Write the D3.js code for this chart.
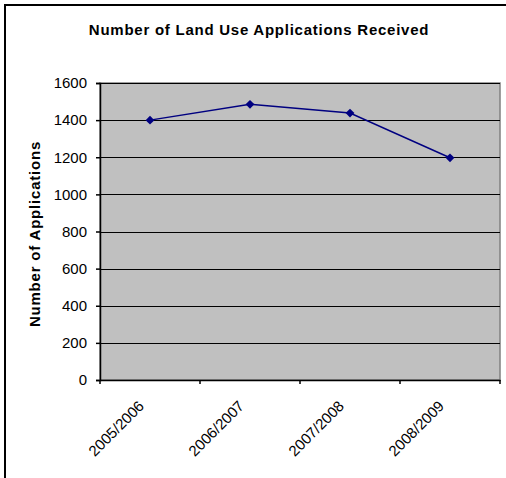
<!DOCTYPE html>
<html><head><meta charset="utf-8">
<script src="https://cdn.jsdelivr.net/npm/d3@7"></script>
<style>body{margin:0;background:#fff}svg{display:block}text{font-family:"Liberation Sans",Arial,sans-serif}</style>
</head><body><svg id="c" width="506" height="478"></svg>
<script>
const categories = ["2005/2006","2006/2007","2007/2008","2008/2009"];
const values = [1400, 1485, 1438, 1197];
const yTicks = [0,200,400,600,800,1000,1200,1400,1600];

const svg = d3.select("#c");
svg.append("rect").attr("x",5).attr("y",5).attr("width",510).attr("height",490)
  .attr("fill","#fff").attr("stroke","#000").attr("stroke-width",2);

const m = {l:100, t:83, r:500, b:380};
const x = d3.scaleBand().domain(categories).range([m.l,m.r]);
const y = d3.scaleLinear().domain([0,1600]).range([m.b,m.t]);

svg.append("rect").attr("x",m.l).attr("y",m.t).attr("width",m.r-m.l).attr("height",m.b-m.t)
  .attr("fill","#c0c0c0").attr("stroke","#808080").attr("stroke-width",1.5);

svg.append("g").selectAll("line").data(yTicks.slice(1)).join("line")
  .attr("x1",m.l).attr("x2",m.r).attr("y1",d=>Math.round(y(d))+0.5).attr("y2",d=>Math.round(y(d))+0.5)
  .attr("stroke","#000").attr("stroke-width",1);

const ya = svg.append("g").attr("transform",`translate(${m.l},0)`)
  .call(d3.axisLeft(y).tickValues(yTicks).tickFormat(d3.format("d")).tickSize(4).tickPadding(9));
ya.select(".domain").attr("stroke","#000").attr("stroke-width",1.5);
ya.selectAll(".tick line").attr("stroke","#000").attr("stroke-width",1.5);
ya.selectAll("text").attr("font-size",15).attr("fill","#000").style("font-family","Liberation Sans, Arial, sans-serif");

const xa = svg.append("g").attr("transform",`translate(0,${m.b})`)
  .call(d3.axisBottom(x).tickSize(0).tickFormat(""));
xa.select(".domain").attr("stroke","#000").attr("stroke-width",1.5);
const bounds = categories.map(c=>x(c)).concat([m.r]);
svg.append("g").selectAll("line").data(bounds).join("line")
  .attr("x1",d=>d).attr("x2",d=>d).attr("y1",m.b).attr("y2",m.b+4).attr("stroke","#000").attr("stroke-width",1.5);

svg.append("g").selectAll("text").data(categories).join("text")
  .attr("transform",d=>`translate(${x(d)+x.bandwidth()/2-5},${m.b+27}) rotate(-45)`)
  .attr("text-anchor","end").attr("font-size",15).attr("fill","#000").text(d=>d);

const line = d3.line().x((d,i)=>x(categories[i])+x.bandwidth()/2).y(d=>y(d));
svg.append("path").datum(values).attr("d",line).attr("fill","none").attr("stroke","#000080").attr("stroke-width",1.5);
svg.append("g").selectAll("path").data(values).join("path")
  .attr("transform",(d,i)=>`translate(${x(categories[i])+x.bandwidth()/2},${y(d)})`)
  .attr("d",d3.symbol(d3.symbolDiamond2,50)).attr("fill","#000080");

svg.append("text").attr("x",259).attr("y",35).attr("text-anchor","middle")
  .attr("font-size",15).attr("font-weight","bold").attr("letter-spacing",0.75).text("Number of Land Use Applications Received");
svg.append("text").attr("transform","translate(39.5,234) rotate(-90)").attr("text-anchor","middle")
  .attr("font-size",15).attr("font-weight","bold").attr("letter-spacing",0.8).text("Number of Applications");
</script></body></html>
